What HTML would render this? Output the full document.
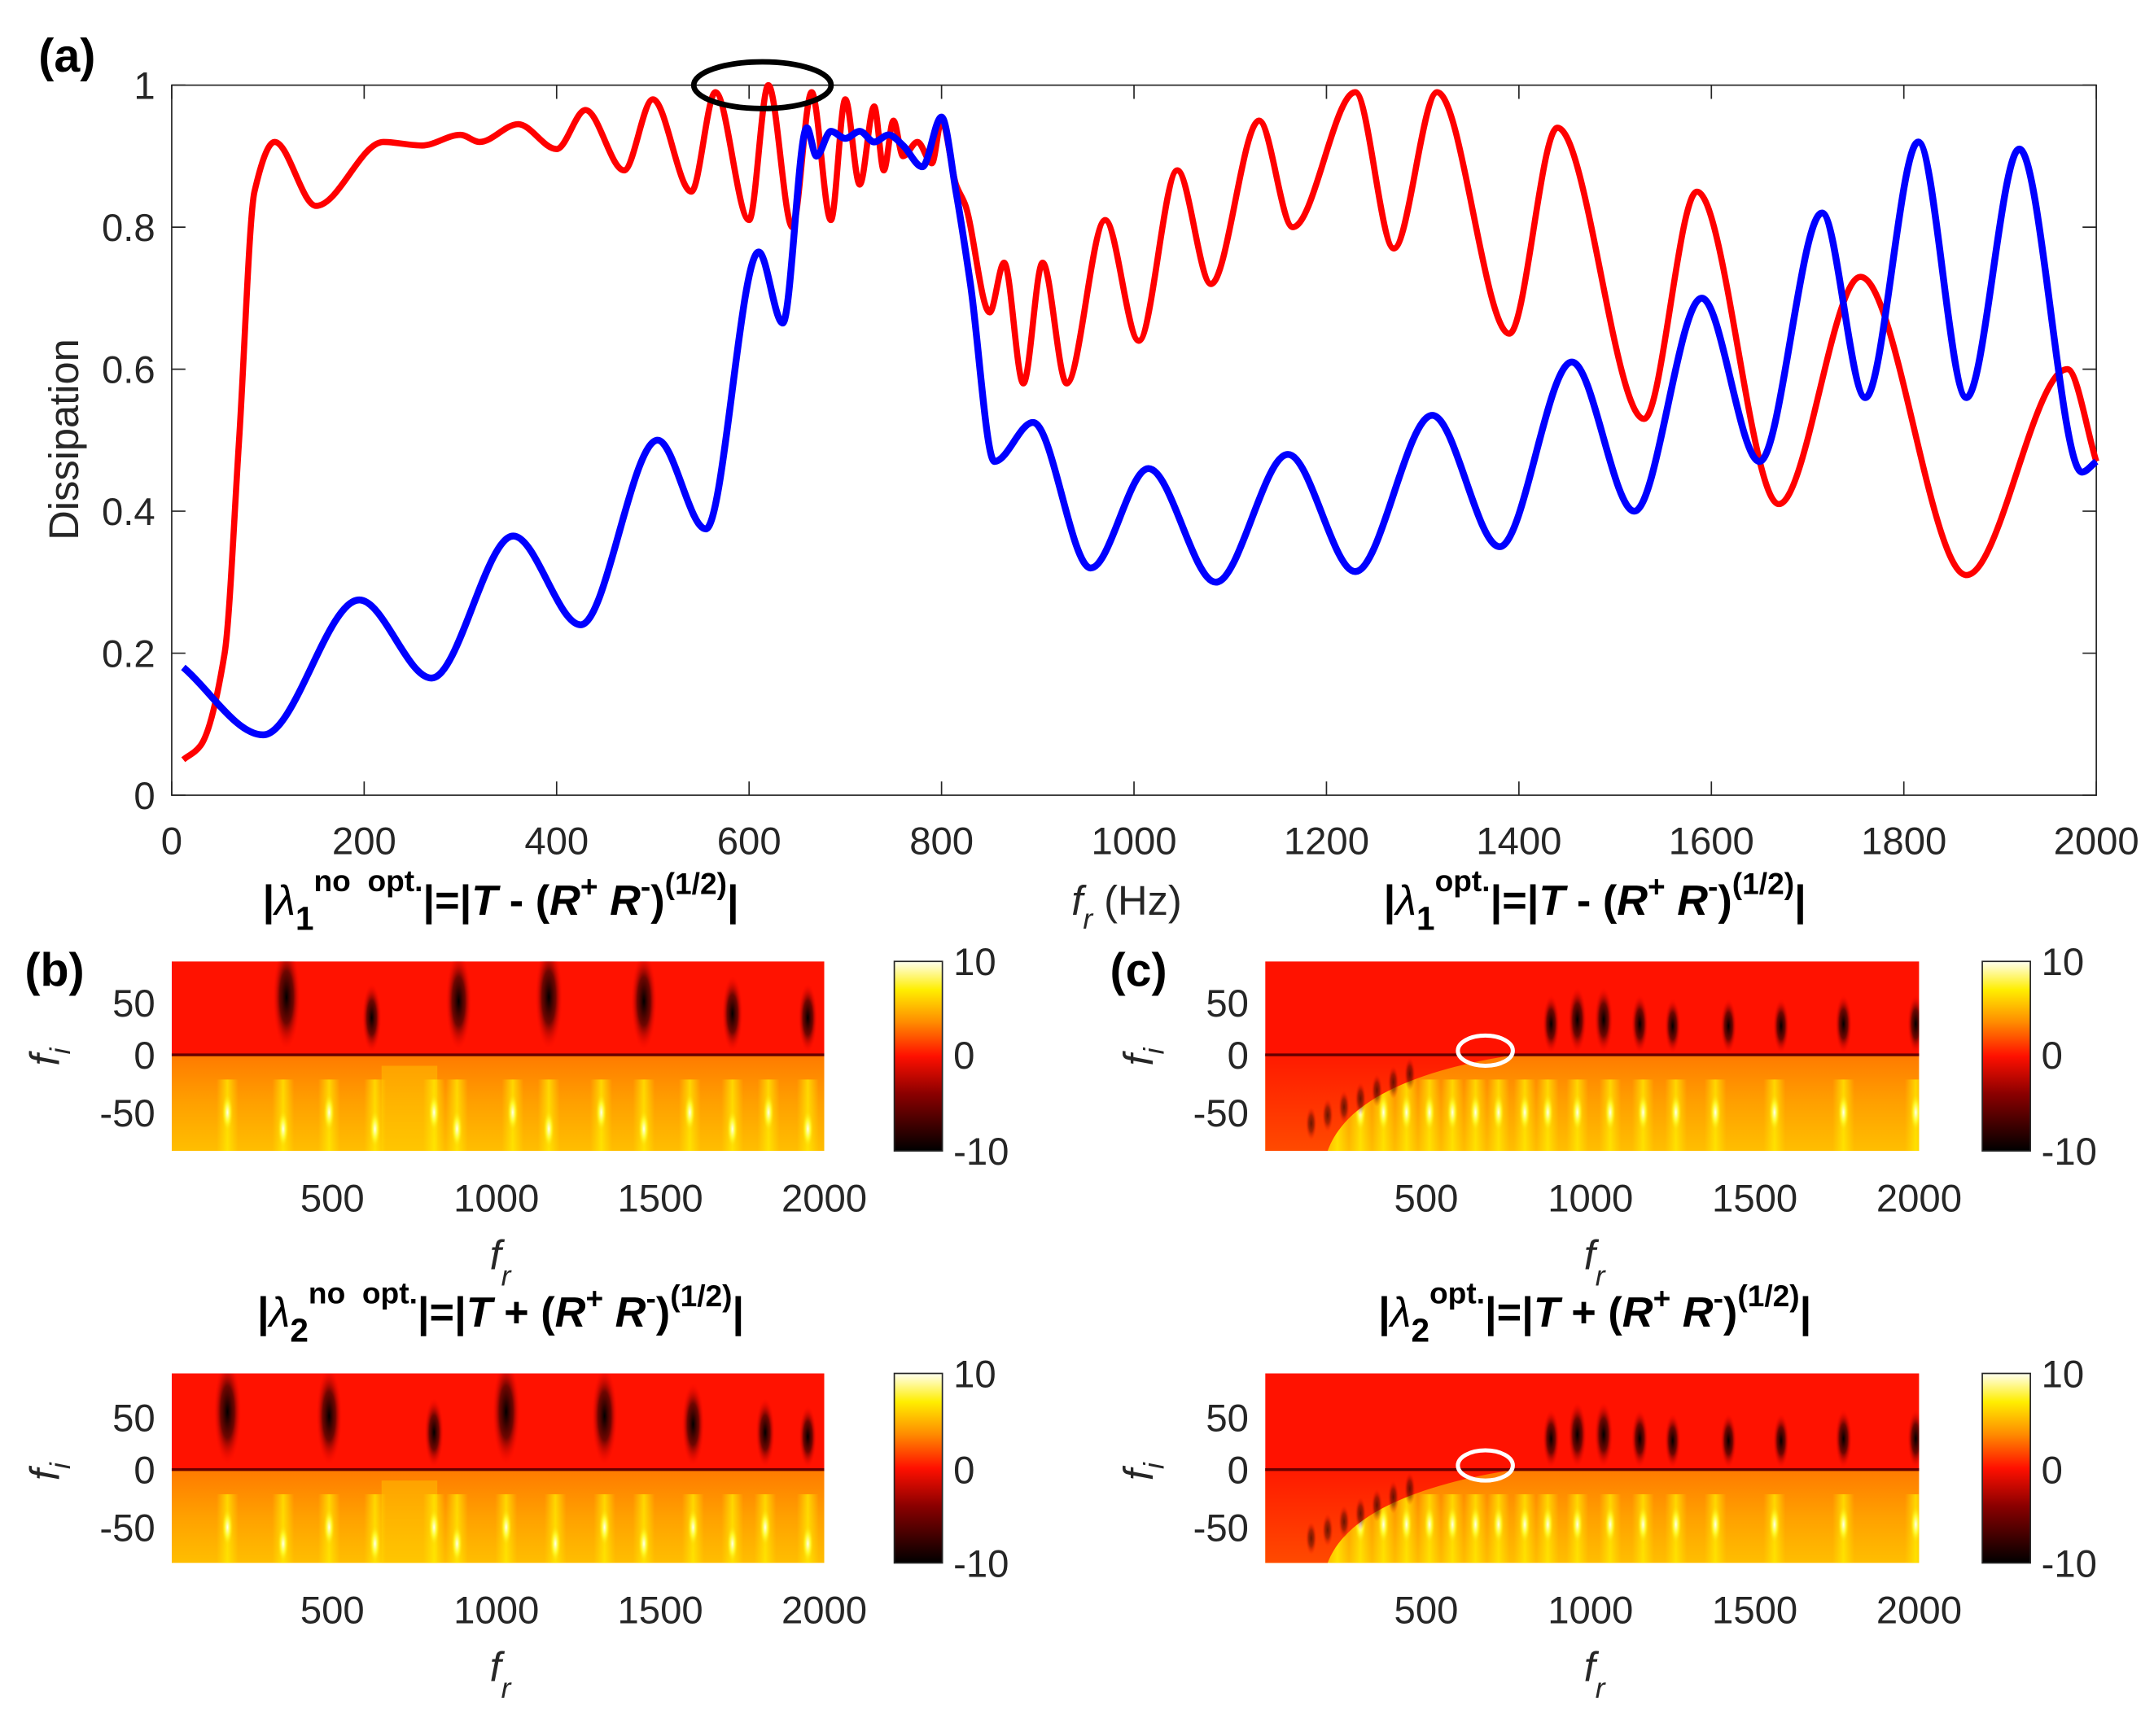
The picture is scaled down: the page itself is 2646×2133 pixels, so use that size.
<!DOCTYPE html>
<html><head><meta charset="utf-8"><style>
html,body{margin:0;padding:0;background:#fff}
svg{display:block}
text{font-family:"Liberation Sans",Arial,sans-serif}
</style></head><body>
<svg id="fig" width="2646" height="2133" viewBox="0 0 1568 1264" preserveAspectRatio="none" xmlns="http://www.w3.org/2000/svg">
<defs>
<linearGradient id="cbar" x1="0" y1="1" x2="0" y2="0">
<stop offset="0" stop-color="#000"/><stop offset="0.3" stop-color="#8a0000"/><stop offset="0.5" stop-color="#ff1000"/><stop offset="0.68" stop-color="#ff8c00"/><stop offset="0.85" stop-color="#ffee00"/><stop offset="1" stop-color="#fffff0"/>
</linearGradient>
<linearGradient id="lower" x1="0" y1="0" x2="0" y2="1">
<stop offset="0" stop-color="#ff7a00"/><stop offset="0.5" stop-color="#ffa000"/><stop offset="1" stop-color="#ffbe00"/>
</linearGradient>
<linearGradient id="col" x1="0" y1="0" x2="1" y2="0">
<stop offset="0" stop-color="#ffe600" stop-opacity="0"/><stop offset="0.5" stop-color="#ffee00" stop-opacity="0.75"/><stop offset="1" stop-color="#ffe600" stop-opacity="0"/>
</linearGradient>
<radialGradient id="dark"><stop offset="0" stop-color="#000"/><stop offset="0.5" stop-color="#300" stop-opacity="0.7"/><stop offset="1" stop-color="#f00" stop-opacity="0"/></radialGradient>
<radialGradient id="bright"><stop offset="0" stop-color="#fffff0"/><stop offset="0.5" stop-color="#ffff30" stop-opacity="0.8"/><stop offset="1" stop-color="#ffd000" stop-opacity="0"/></radialGradient>
<linearGradient id="redwedge" x1="0" y1="0" x2="0" y2="1">
<stop offset="0" stop-color="#ff1a00"/><stop offset="1" stop-color="#ff4a00"/>
</linearGradient>
</defs>
<g id="main"></g>
<g id="heat"></g>
</svg>
<script>
// ---- main chart data ----
const redFr = [12,30,55,70,86,107,150,220,260,300,320,360,400,430,470,500,540,565,600,620,645,665,685,700,715,730,740,750,760,775,790,800,815,825,850,865,885,905,930,970,1005,1045,1080,1130,1165,1230,1270,1315,1390,1440,1530,1585,1670,1755,1865,1970,2000];
const redD  = [0.05,0.07,0.2,0.5,0.85,0.92,0.83,0.92,0.915,0.93,0.92,0.945,0.91,0.965,0.88,0.98,0.85,0.99,0.81,1.0,0.80,0.99,0.81,0.98,0.86,0.97,0.88,0.95,0.90,0.92,0.89,0.95,0.86,0.83,0.68,0.75,0.58,0.75,0.58,0.81,0.64,0.88,0.72,0.95,0.80,0.99,0.77,0.99,0.65,0.94,0.53,0.85,0.41,0.73,0.31,0.60,0.47];
const blueFr = [12,95,195,270,355,425,505,555,610,635,660,670,685,700,715,730,745,760,780,800,815,830,855,895,955,1015,1085,1160,1230,1310,1380,1455,1520,1590,1650,1715,1760,1815,1865,1920,1985,2000];
const blueD  = [0.18,0.085,0.275,0.165,0.365,0.24,0.50,0.375,0.765,0.665,0.94,0.90,0.935,0.925,0.935,0.92,0.93,0.915,0.885,0.955,0.85,0.72,0.47,0.525,0.32,0.46,0.30,0.48,0.315,0.535,0.35,0.61,0.40,0.70,0.47,0.82,0.56,0.92,0.56,0.91,0.455,0.47];
const xTicks = [0,200,400,600,800,1000,1200,1400,1600,1800,2000];
const yTicks = [0,0.2,0.4,0.6,0.8,1];
// ---- heatmap feature data (fr positions) ----
const b1Dark = [360,620,885,1160,1450,1720,1950];
const b1DarkSize = [1,0.5,0.9,1,0.9,0.6,0.5];
const b1Bright = [180,350,490,630,810,880,1050,1160,1320,1450,1590,1720,1830,1950];
const b2Dark = [180,490,810,1030,1330,1600,1820,1950];
const b2DarkSize = [1,0.9,0.5,1,0.9,0.7,0.5,0.4];
const b2Bright = [180,350,490,630,810,880,1030,1180,1330,1450,1600,1720,1820,1950];
const cDark = [880,960,1040,1150,1250,1420,1580,1770,1990];
const cDarkSize = [0.35,0.45,0.45,0.35,0.3,0.3,0.3,0.35,0.35];
const cBright = [230,300,370,440,510,580,650,720,800,870,960,1060,1160,1260,1380,1560,1770,1990];

const NS="http://www.w3.org/2000/svg";
function el(tag,attrs,parent){const e=document.createElementNS(NS,tag);for(const k in attrs)e.setAttribute(k,attrs[k]);parent.appendChild(e);return e;}
const main=document.getElementById('main');
const X0=125,X1=1526,Y0=579,Y1=62;
const sx=f=>X0+(f/2000)*(X1-X0);
const sy=d=>Y0-d*(Y0-Y1);

function monoPath(xs,ys){
  const n=xs.length,px=xs.map(sx),py=ys.map(sy),m=[];
  const d=[];for(let i=0;i<n-1;i++)d.push((py[i+1]-py[i])/(px[i+1]-px[i]));
  for(let i=0;i<n;i++){
    if(i===0)m.push(d[0]);else if(i===n-1)m.push(d[n-2]);
    else if(d[i-1]*d[i]<=0)m.push(0);else m.push(2/(1/d[i-1]+1/d[i]));
  }
  let s='M'+px[0]+','+py[0];
  for(let i=0;i<n-1;i++){const h=(px[i+1]-px[i])/3;
    s+=' C'+(px[i]+h)+','+(py[i]+m[i]*h)+' '+(px[i+1]-h)+','+(py[i+1]-m[i+1]*h)+' '+px[i+1]+','+py[i+1];}
  return s;
}
const box=el('rect',{x:X0,y:Y1,width:X1-X0,height:Y0-Y1,fill:'none',stroke:'#262626','stroke-width':1},main);


xTicks.forEach(t=>{
  const x=sx(t);
  el('line',{x1:x,y1:Y0,x2:x,y2:Y0-10,stroke:'#262626'},main);
  el('line',{x1:x,y1:Y1,x2:x,y2:Y1+10,stroke:'#262626'},main);
  const tx=el('text',{x:x,y:622,'font-size':28,'text-anchor':'middle',fill:'#262626'},main);
  tx.textContent=t;
  
  
});
yTicks.forEach(t=>{
  const y=sy(t);
  el('line',{x1:X0,y1:y,x2:X0+10,y2:y,stroke:'#262626'},main);
  el('line',{x1:X1,y1:y,x2:X1-10,y2:y,stroke:'#262626'},main);
  const tx=el('text',{x:113,y:y+10,'font-size':28,'text-anchor':'end',fill:'#262626'},main);
  tx.textContent=t;
  
  
});
const rl=el('path',{d:monoPath(redFr,redD),fill:'none',stroke:'#ff0000','stroke-width':4.5,'stroke-linejoin':'round'},main);


const bl=el('path',{d:monoPath(blueFr,blueD),fill:'none',stroke:'#0000ff','stroke-width':5,'stroke-linejoin':'round'},main);


const ov=el('ellipse',{cx:555,cy:62,rx:50,ry:17,fill:'none',stroke:'#000','stroke-width':4},main);


const yl=el('text',{x:0,y:0,'font-size':30,'text-anchor':'middle',fill:'#262626',transform:'translate(57,320) rotate(-90)'},main);
yl.textContent='Dissipation';


const xl=el('text',{x:780,y:666,'font-size':30,fill:'#262626'},main);
xl.innerHTML='<tspan font-style="italic">f</tspan><tspan dy="10" font-size="21" font-style="italic">r</tspan><tspan dy="-10"> (Hz)</tspan>';


const la=el('text',{x:28,y:52,'font-size':34,'font-weight':'bold',fill:'#000'},main);
la.textContent='(a)';



// ---- heatmaps ----
const heat=document.getElementById('heat');
function panel(name,hx0,hx1,top,bot,zero,cbx,dark,dsize,bright,isC,sub,sup,sign){
  const g=el('g',{},heat);
  
  
  const fx=f=>hx0+ (f-10)/1990*(hx1-hx0);
  const clipId='c'+name;
  const cp=el('clipPath',{id:clipId},g);el('rect',{x:hx0,y:top,width:hx1-hx0,height:bot-top},cp);
  const hg=el('g',{'clip-path':'url(#'+clipId+')'},g);
  el('rect',{x:hx0,y:top,width:hx1-hx0,height:zero-top,fill:'#ff1200'},hg);
  el('rect',{x:hx0,y:zero,width:hx1-hx0,height:bot-zero,fill:'url(#lower)'},hg);
  if(!isC){
    el('rect',{x:fx(650),y:zero+8,width:fx(820)-fx(650),height:bot-zero,fill:'#ffd200',opacity:0.4},hg);
  }
  bright.forEach((f,i)=>{
    const x=fx(f);
    el('rect',{x:x-8,y:zero+18,width:16,height:bot-zero-18,fill:'url(#col)'},hg);
    el('ellipse',{cx:x,cy:isC?bot-28:zero+42+(i%2)*12,rx:4,ry:14,fill:'url(#bright)'},hg);
  });
  if(isC){
    el('path',{d:`M${hx0},${zero} L${hx0},${bot} L${fx(200)},${bot} C${fx(260)},${zero+30} ${fx(500)},${zero+10} ${fx(770)},${zero} Z`,fill:'url(#redwedge)'},hg);
    [150,200,250,300,350,400,450].forEach((f,i)=>{
      el('ellipse',{cx:fx(f),cy:zero+50-i*6,rx:4,ry:12,fill:'url(#dark)',opacity:0.6},hg);
    });
  }
  dark.forEach((f,i)=>{
    const s=dsize[i];
    el('ellipse',{cx:fx(f),cy:zero-12-30*s,rx:4+6*s,ry:12+26*s,fill:'url(#dark)'},hg);
  });
  el('line',{x1:hx0,y1:zero,x2:hx1,y2:zero,stroke:'#600','stroke-width':2},g);
  [500,1000,1500,2000].forEach(t=>{
    const tx=el('text',{x:fx(t),y:bot+44,'font-size':28,'text-anchor':'middle',fill:'#262626'},g);
    tx.textContent=t;
    
    
  });
  [[50,zero-38],[0,zero],[-50,zero+42]].forEach(([t,y])=>{
    const tx=el('text',{x:hx0-12,y:y+10,'font-size':28,'text-anchor':'end',fill:'#262626'},g);
    tx.textContent=t;
    
    
  });
  const fi=el('text',{x:0,y:0,'font-size':30,'font-style':'italic',fill:'#262626',transform:`translate(${hx0-82},${zero+8}) rotate(-90)`},g);
  fi.innerHTML='f<tspan dy="8" font-size="21">i</tspan>';
  
  
  const fr=el('text',{x:(hx0+hx1)/2-6,y:bot+86,'font-size':30,'font-style':'italic',fill:'#262626'},g);
  fr.innerHTML='f<tspan dy="12" font-size="21">r</tspan>';
  
  
  el('rect',{x:cbx,y:top,width:35,height:bot-top,fill:'url(#cbar)',stroke:'#262626','stroke-width':1},g);
  [[10,top],[0,zero],[-10,bot]].forEach(([t,y])=>{
    const tx=el('text',{x:cbx+43,y:y+10,'font-size':28,fill:'#262626'},g);
    tx.textContent=t;
    
    
  });
  if(isC){
    const ce=el('ellipse',{cx:fx(680),cy:zero-3,rx:20,ry:11,fill:'none',stroke:'#fff','stroke-width':3},g);
    
    
  }
  const tt=el('text',{x:(hx0+hx1)/2+2,y:top-34,'font-size':31,'font-weight':'bold','text-anchor':'middle',fill:'#000'},g);
  tt.innerHTML=`|<tspan font-style="italic" font-weight="normal">λ</tspan><tspan dy="11" font-size="24">${sub}</tspan><tspan dy="-28" font-size="22">${sup}</tspan><tspan dy="17">|=|</tspan><tspan font-style="italic">T</tspan> ${sign} (<tspan font-style="italic">R</tspan><tspan dy="-13" font-size="22">+</tspan><tspan dy="13"> </tspan><tspan font-style="italic">R</tspan><tspan dy="-13" font-size="22">-</tspan><tspan dy="13">)</tspan><tspan dy="-15" font-size="22">(1/2)</tspan><tspan dy="15">|</tspan>`;
  
  
}
panel('heatmap-b-lambda1',125,600,700,838,768,651,b1Dark,b1DarkSize,b1Bright,false,1,'no&#160;&#160;opt.','-');
panel('heatmap-b-lambda2',125,600,1000,1138,1070,651,b2Dark,b2DarkSize,b2Bright,false,2,'no&#160;&#160;opt.','+');
panel('heatmap-c-lambda1',921,1397,700,838,768,1443,cDark,cDarkSize,cBright,true,1,'opt.','-');
panel('heatmap-c-lambda2',921,1397,1000,1138,1070,1443,cDark,cDarkSize,cBright,true,2,'opt.','+');
const lb=el('text',{x:18,y:718,'font-size':34,'font-weight':'bold',fill:'#000'},heat);
lb.textContent='(b)';


const lc=el('text',{x:808,y:718,'font-size':34,'font-weight':'bold',fill:'#000'},heat);
lc.textContent='(c)';


</script>
</body></html>
